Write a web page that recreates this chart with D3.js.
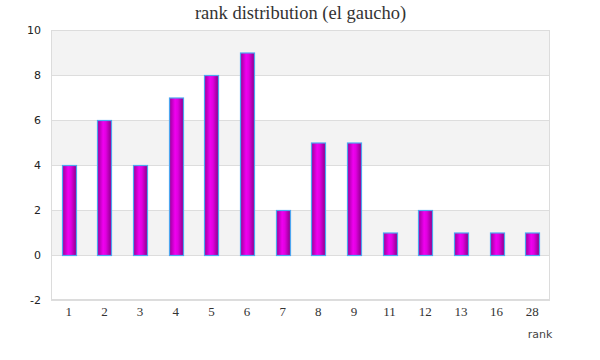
<!DOCTYPE html>
<html><head><meta charset="utf-8">
<script src="https://cdn.jsdelivr.net/npm/d3@7"></script>
<style>body{margin:0;background:#fff}</style>
</head><body>
<svg id="c" width="600" height="360"></svg>
<script>
const categories = ["1","2","3","4","5","6","7","8","9","11","12","13","16","28"];
const values = [4,6,4,7,8,9,2,5,5,1,2,1,1,1];
const yTicks = [-2,0,2,4,6,8,10];
const title = "rank distribution (el gaucho)";
const xTitle = "rank";

const svg = d3.select("#c");
const m = {left:51, right:50, top:30, bottom:60};
const W = 600, H = 360;
const xb = d3.scaleBand().domain(categories).range([m.left, W-m.right]);
const y = d3.scaleLinear().domain([-2,10]).range([H-m.bottom, m.top]);

const defs = svg.append("defs");
const g = defs.append("linearGradient").attr("id","bg").attr("x1","0").attr("x2","1").attr("y1","0").attr("y2","0");
g.append("stop").attr("offset","0%").attr("stop-color","#9b0099");
g.append("stop").attr("offset","40%").attr("stop-color","#f000f0");
g.append("stop").attr("offset","60%").attr("stop-color","#e000e0");
g.append("stop").attr("offset","100%").attr("stop-color","#8a0088");

// bands
for (let i=0;i<yTicks.length-1;i++){
  const a=yTicks[i], b=yTicks[i+1];
  if (i%2===1) svg.append("rect").attr("x",m.left).attr("width",W-m.right-m.left)
    .attr("y",y(b)).attr("height",y(a)-y(b)).attr("fill","#f3f3f3");
}
// grid
svg.append("g").selectAll("line").data(yTicks).join("line")
  .attr("x1",m.left).attr("x2",W-m.right).attr("y1",d=>y(d)+0.5).attr("y2",d=>y(d)+0.5)
  .attr("stroke","#dddddd").attr("stroke-width",1);
// border
svg.append("rect").attr("x",m.left+0.5).attr("y",m.top+0.5).attr("width",W-m.right-m.left-1).attr("height",H-m.bottom-m.top-1)
  .attr("fill","none").attr("stroke","#dcdcdc");

// y labels
const yAxis = d3.axisLeft(y).tickValues(yTicks).tickFormat(d=>String(d)).tickSize(0).tickPadding(10);
const ya = svg.append("g").attr("transform",`translate(${m.left},0)`).call(yAxis);
ya.select(".domain").remove();
ya.selectAll("text").attr("font-family","Verdana, DejaVu Sans, sans-serif").attr("font-size",11).attr("fill","#222");

// bars
svg.append("g").selectAll("rect").data(values).join("rect")
  .attr("x",(d,i)=>Math.round(xb(categories[i])+xb.bandwidth()/2-7)+0.5)
  .attr("width",14)
  .attr("y",d=>y(d)+0.5)
  .attr("height",d=>y(0)-y(d))
  .attr("fill","url(#bg)").attr("stroke","#4da6f0").attr("stroke-width",1.2);

// x labels
const xAxis = d3.axisBottom(xb).tickSize(0).tickPadding(7);
const xa = svg.append("g").attr("transform",`translate(0,${H-m.bottom})`).call(xAxis);
xa.select(".domain").remove();
xa.selectAll("text").attr("font-family","Georgia, 'Liberation Serif', 'DejaVu Serif', serif").attr("font-size",13).attr("fill","#333");

svg.append("text").attr("x",W-m.right-10).attr("y",338).attr("text-anchor","middle")
  .attr("font-family","Verdana, DejaVu Sans, sans-serif").attr("font-size",11).attr("fill","#444").text(xTitle);

svg.append("text").attr("x",(m.left+W-m.right)/2).attr("y",19).attr("text-anchor","middle")
  .attr("font-family","Georgia, 'Liberation Serif', 'DejaVu Serif', serif").attr("font-size",18.5).attr("fill","#333").text(title);
</script>
</body></html>
